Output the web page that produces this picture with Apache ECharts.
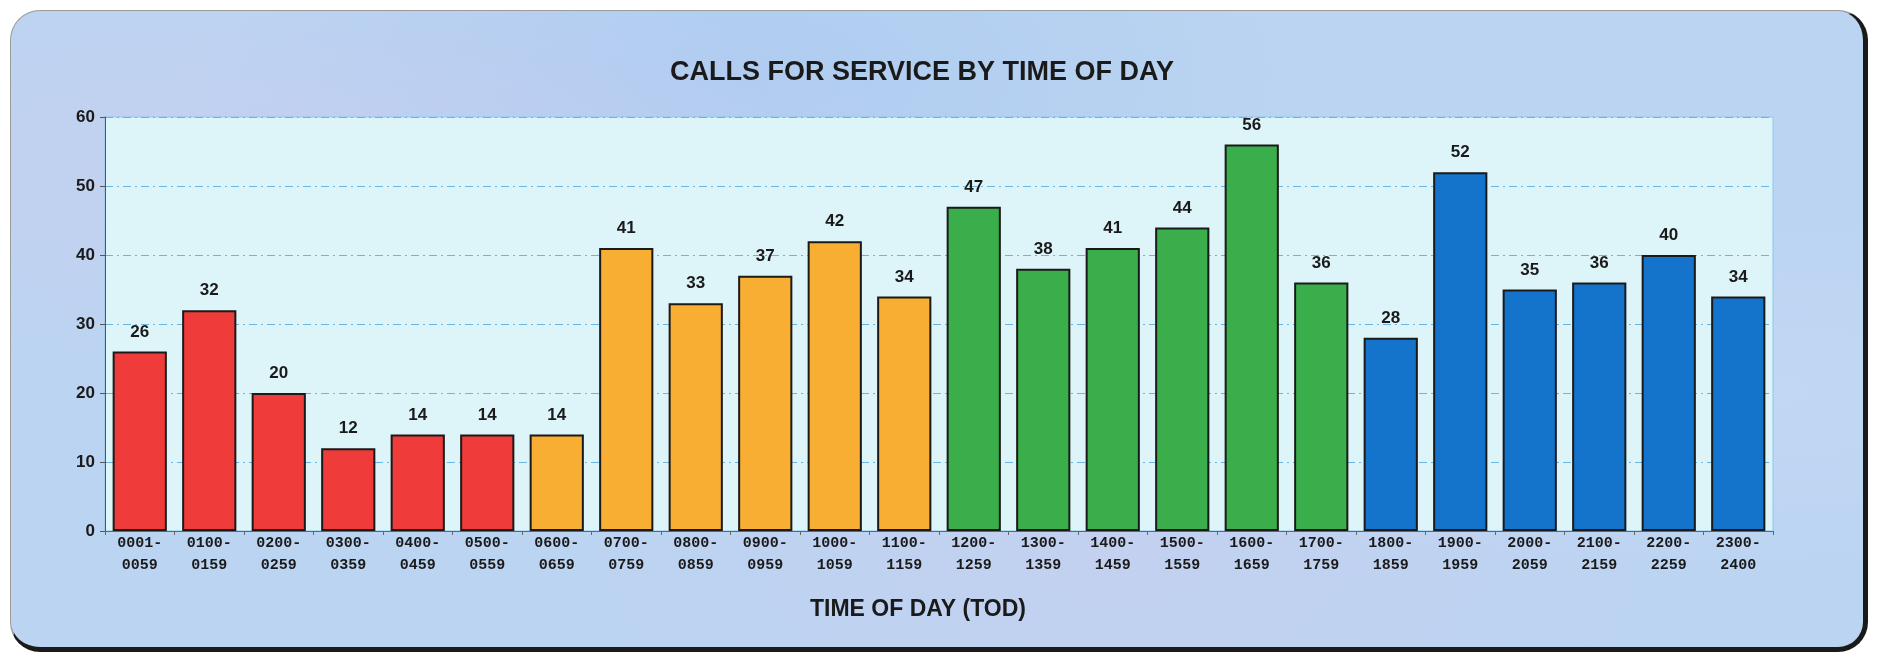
<!DOCTYPE html>
<html>
<head>
<meta charset="utf-8">
<script src="https://cdn.jsdelivr.net/npm/echarts@6/dist/echarts.min.js"></script>
<style>
html,body{margin:0;padding:0;background:#ffffff;}
#frame{position:absolute;left:10px;top:10px;width:1852px;height:636px;border-radius:30px;
 border-top:1px solid #9a9a9a;border-left:1px solid #9a9a9a;border-right:5px solid #1a1a1a;border-bottom:5px solid #1a1a1a;
 background:
  radial-gradient(ellipse at 15% 25%, rgba(215,200,240,0.35), rgba(0,0,0,0) 30%),
  radial-gradient(ellipse at 60% 85%, rgba(215,200,240,0.3), rgba(0,0,0,0) 35%),
  radial-gradient(ellipse at 40% 10%, rgba(160,195,240,0.45), rgba(0,0,0,0) 35%),
  radial-gradient(ellipse at 90% 60%, rgba(200,220,248,0.5), rgba(0,0,0,0) 35%),
  #bbd4f1;}
#main{position:absolute;left:0;top:0;width:1879px;height:659px;}
</style>
</head>
<body>
<div id="frame"></div>
<div id="main"></div>
<script>
const categories = ["0001-\n0059","0100-\n0159","0200-\n0259","0300-\n0359","0400-\n0459","0500-\n0559",
  "0600-\n0659","0700-\n0759","0800-\n0859","0900-\n0959","1000-\n1059","1100-\n1159",
  "1200-\n1259","1300-\n1359","1400-\n1459","1500-\n1559","1600-\n1659","1700-\n1759",
  "1800-\n1859","1900-\n1959","2000-\n2059","2100-\n2159","2200-\n2259","2300-\n2400"];
const calls = [26,32,20,12,14,14,14,41,33,37,42,34,47,38,41,44,56,36,28,52,35,36,40,34];
const groupIndex = [0,0,0,0,0,0,1,1,1,1,1,1,2,2,2,2,2,2,3,3,3,3,3,3];
const groupColors = ["#ef3b39","#f8ad33","#3aae4a","#1474cc"];
const yTicks = [0,10,20,30,40,50,60];
const chartTitle = 'CALLS FOR SERVICE BY TIME OF DAY';
const xTitle = 'TIME OF DAY (TOD)';

const chart = echarts.init(document.getElementById('main'), null, {renderer:'canvas'});
chart.setOption({
  backgroundColor:'transparent',
  animation:false,
  title:[
    {text:chartTitle,left:917,top:54,textAlign:'center',
     textStyle:{fontFamily:'Liberation Sans, Arial, sans-serif',fontSize:27,fontWeight:'bold',color:'#1a1a1a'}},
    {text:xTitle,left:913,top:593,textAlign:'center',
     textStyle:{fontFamily:'Liberation Sans, Arial, sans-serif',fontSize:23,fontWeight:'bold',color:'#1a1a1a'}}
  ],
  grid:{left:105,right:106,top:117,bottom:128,show:true,backgroundColor:'#ddf4f8',borderColor:'#8ec5ee',borderWidth:1},
  xAxis:{type:'category',data:categories,
    axisLine:{lineStyle:{color:'#666',width:1}},
    axisTick:{show:true,alignWithLabel:false,length:4,lineStyle:{color:'#666'}},
    axisLabel:{fontFamily:'Liberation Mono, DejaVu Sans Mono, monospace',fontSize:15,fontWeight:'bold',color:'#1a1a1a',lineHeight:22,margin:1,interval:0}
  },
  yAxis:{type:'value',min:0,max:60,interval:10,
    axisLine:{show:true,lineStyle:{color:'#555',width:1}},
    axisTick:{show:true,length:5,lineStyle:{color:'#555'}},
    axisLabel:{fontFamily:'Liberation Sans, Arial, sans-serif',fontSize:17,fontWeight:'bold',color:'#1a1a1a',margin:10,
      formatter:function(v){return yTicks.indexOf(v)>=0?String(v):'';}},
    splitLine:{show:true,lineStyle:{color:'#6cb4e4',type:[8,4,2,4],width:1}}
  },
  series:[{type:'bar',barCategoryGap:'22%',
    data:calls.map((v,i)=>({value:v,itemStyle:{color:groupColors[groupIndex[i]]}})),
    itemStyle:{borderColor:'#1a1a1a',borderWidth:2},
    label:{show:true,position:'top',distance:11,fontFamily:'Liberation Sans, Arial, sans-serif',fontSize:17,fontWeight:'bold',color:'#1a1a1a'}
  }]
});
</script>
</body>
</html>
